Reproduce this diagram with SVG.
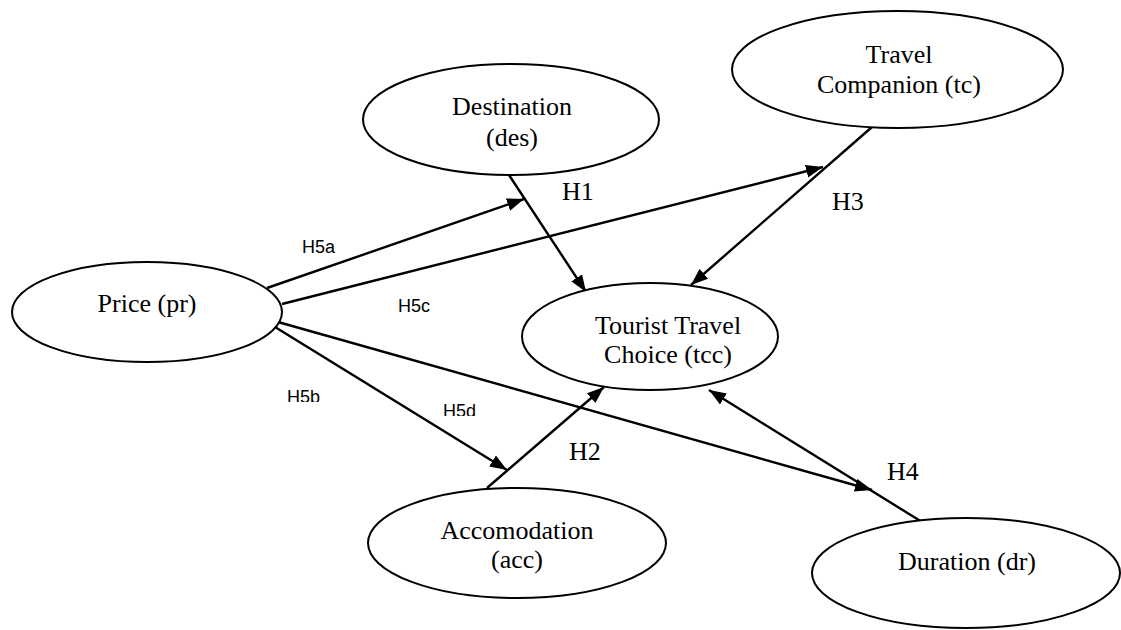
<svg xmlns="http://www.w3.org/2000/svg" width="1121" height="630" viewBox="0 0 1121 630">
<style>
.node ellipse{fill:#fff;stroke:#000;stroke-width:2}
.node text{font-family:"Liberation Serif","Times New Roman",serif;font-size:26px;fill:#000;text-anchor:middle}
.conn line{stroke:#000;stroke-width:2.4;fill:none}
.hl{font-family:"Liberation Serif","Times New Roman",serif;font-size:26px;fill:#000}
.sl{font-family:"Liberation Sans",Arial,sans-serif;font-size:18px;fill:#000}
</style>
<defs>
<marker id="arr" markerUnits="userSpaceOnUse" markerWidth="18" markerHeight="14" refX="17" refY="7" orient="auto">
<path d="M0,0.5 L17,7 L0,13.5 z" fill="#000"/>
</marker>
<clipPath id="c5b"><rect x="280" y="380" width="50" height="22"/></clipPath>
<clipPath id="c5d"><rect x="436" y="394" width="50" height="22"/></clipPath>
</defs>
<rect width="1121" height="630" fill="#fff"/>
<g class="conn">
<line x1="509" y1="175" x2="586" y2="292" marker-end="url(#arr)"/>
<line x1="872" y1="127" x2="691" y2="285" marker-end="url(#arr)"/>
<line x1="487" y1="488" x2="604" y2="387" marker-end="url(#arr)"/>
<line x1="922" y1="522" x2="709" y2="390" marker-end="url(#arr)"/>
<line x1="267" y1="288" x2="524" y2="199" marker-end="url(#arr)"/>
<line x1="282" y1="304" x2="823" y2="167" marker-end="url(#arr)"/>
<line x1="275" y1="327" x2="507" y2="470" marker-end="url(#arr)"/>
<line x1="278" y1="322" x2="872" y2="490" marker-end="url(#arr)"/>
</g>
<g id="labels">
<text class="hl" x="562" y="200">H1</text>
<text class="hl" x="569" y="460">H2</text>
<text class="hl" x="832" y="210">H3</text>
<text class="hl" x="887" y="480">H4</text>
<text class="sl" x="302" y="253">H5a</text>
<text class="sl" x="398" y="312">H5c</text>
<text class="sl" x="287" y="403" clip-path="url(#c5b)">H5b</text>
<text class="sl" x="443" y="417" clip-path="url(#c5d)">H5d</text>
</g>
<g id="price" class="node">
<ellipse cx="147" cy="312" rx="135" ry="50"/>
<text x="147" y="312">Price (pr)</text>
</g>
<g id="destination" class="node">
<ellipse cx="511" cy="119.5" rx="148" ry="55.5"/>
<text x="512" y="115">Destination</text>
<text x="512" y="146">(des)</text>
</g>
<g id="companion" class="node">
<ellipse cx="897.5" cy="69.5" rx="165.5" ry="58.5"/>
<text x="899" y="63">Travel</text>
<text x="899" y="93">Companion (tc)</text>
</g>
<g id="choice" class="node">
<ellipse cx="650" cy="336.5" rx="128" ry="53.5"/>
<text x="668" y="334">Tourist Travel</text>
<text x="668" y="363">Choice (tcc)</text>
</g>
<g id="accomodation" class="node">
<ellipse cx="517" cy="543" rx="149" ry="55"/>
<text x="517" y="539">Accomodation</text>
<text x="517" y="568">(acc)</text>
</g>
<g id="duration" class="node">
<ellipse cx="966" cy="573" rx="154" ry="55"/>
<text x="967" y="570">Duration (dr)</text>
</g>
</svg>
